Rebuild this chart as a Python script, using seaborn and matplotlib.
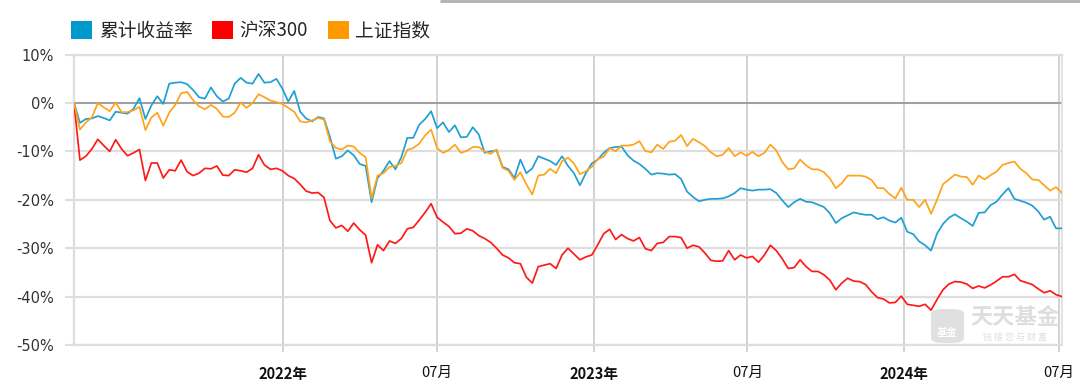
import numpy as np
import pandas as pd
import matplotlib
matplotlib.use("Agg")
import matplotlib.pyplot as plt
import seaborn as sns
from matplotlib.patches import Patch, FancyBboxPatch
from matplotlib.lines import Line2D

# ---------------- data (weekly) ----------------
start_date = "2021-04-30"
end_date = "2024-07-05"

fund = [0.0, -4.1, -3.3, -3.2, -2.7, -3.1, -3.6, -1.8, -2.0, -2.2, -1.2, 1.0, -3.3, -0.5, 1.4, -0.2,
        4.0, 4.2, 4.3, 3.9, 2.7, 1.2, 0.9, 3.2, 1.4, 0.3, 0.9, 4.0, 5.2, 4.2, 4.0, 6.0, 4.2, 4.3, 5.0,
        3.0, 0.3, 2.5, -1.8, -3.2, -3.8, -2.9, -3.2, -7.0, -11.5, -11.0, -9.8, -10.8, -12.6, -13.0, -20.5,
        -15.5, -14.0, -12.0, -13.7, -11.2, -7.2, -7.2, -4.5, -3.3, -1.7, -5.2, -4.0, -6.0, -4.6, -7.1, -7.0,
        -5.0, -6.5, -10.3, -10.0, -9.8, -13.2, -13.7, -15.5, -11.7, -14.5, -13.5, -11.0, -11.5, -12.0, -12.8,
        -11.0, -13.0, -14.5, -17.0, -14.5, -12.5, -11.7, -10.3, -9.3, -9.1, -9.0, -10.8, -11.9, -12.6, -13.6,
        -14.8, -14.5, -14.6,
        -14.8, -14.7, -15.7, -18.3, -19.4, -20.3, -20.0, -19.8, -19.8, -19.7, -19.3, -18.6, -17.6, -17.9,
        -18.1, -17.9, -17.9, -17.8, -18.6, -20.1, -21.5, -20.5, -19.8, -20.4, -20.5, -21.0, -21.5, -22.8,
        -24.8, -23.8, -23.2, -22.6,
        -22.9, -23.1, -23.1, -24.0, -23.6, -24.3, -24.7, -23.7, -26.6, -27.1, -28.6, -29.4, -30.5, -27.0,
        -25.0, -23.7, -23.0, -23.8, -24.5, -25.4, -22.7, -22.6, -21.1, -20.4, -18.9, -17.6, -19.8, -20.2,
        -20.6, -21.2, -22.4, -24.1, -23.5, -25.9, -25.9]

hs300 = [0.0, -11.8, -11.0, -9.5, -7.5, -8.8, -10.0, -7.6, -9.5, -10.9, -10.3, -9.6, -16.0, -12.4, -12.4,
         -15.5, -13.8, -14.0, -11.8, -14.2, -15.0, -14.5, -13.5, -13.6, -13.0, -14.9, -15.0, -13.8, -14.0,
         -14.3, -13.5, -10.7, -12.8, -13.7, -13.5,
         -14.0, -15.0, -15.6, -16.8, -18.2, -18.6, -18.5, -19.5, -24.3, -25.8, -25.3, -26.5, -24.8, -26.2,
         -27.3, -33.0, -29.3, -30.5, -28.5, -29.0, -28.0, -26.0, -25.7, -24.2, -22.6, -20.8, -23.6, -24.6,
         -25.5, -27.0, -26.9, -26.0,
         -26.4, -27.4, -28.0, -28.8, -30.0, -31.4, -32.0, -33.0, -33.2, -36.0, -37.2, -33.8, -33.5, -33.2,
         -34.2, -31.4, -30.0, -31.2, -32.4, -31.8, -31.4, -29.3, -27.0, -26.1, -28.2, -27.2, -28.0, -28.5,
         -27.8, -30.1, -30.5, -29.0, -28.8,
         -27.6, -27.6, -27.8, -30.0, -29.4, -29.7, -31.0, -32.5, -32.7, -32.6, -30.5, -32.4, -31.4, -32.0,
         -31.7, -32.9, -31.4, -29.4, -30.5, -32.2, -34.2, -34.0, -32.4, -33.8, -34.8, -34.8, -35.5, -36.6,
         -38.6, -37.2, -36.2, -36.8,
         -36.9, -37.5, -39.0, -40.2, -40.5, -41.3, -41.2, -39.9, -41.6, -41.8, -42.0, -41.6, -42.8, -40.6,
         -38.6, -37.4, -36.9, -37.0, -37.4, -38.3, -37.8, -38.2, -37.6, -36.8, -35.9, -35.9, -35.4, -36.7,
         -37.1, -37.5, -38.4, -39.2, -38.8, -39.6, -40.0]

shindex = [0.0, -5.5, -4.0, -3.0, 0.0, -0.9, -1.7, 0.1, -1.9, -1.9, -1.5, -0.8, -5.6, -3.0, -2.0, -4.7,
           -2.0, -0.4, 2.0, 2.3, 0.6, -0.7, -1.3, -0.4, -1.2, -2.8, -2.9, -2.0, 0.1, -1.0, 0.0, 1.8, 1.2,
           0.5, 0.2,
           -0.2, -1.0, -1.8, -3.8, -4.0, -3.6, -3.1, -3.4, -7.9, -9.3, -9.6, -8.8, -9.0, -10.3, -11.2, -19.7,
           -15.0, -14.5, -13.2, -13.0, -12.4, -9.7, -9.3, -8.4, -6.7, -5.5, -9.3, -10.3, -9.7, -8.6, -10.3,
           -9.9,
           -9.1, -9.1, -10.0, -10.5, -9.6, -13.4, -14.0, -15.9, -14.3, -16.8, -18.9, -15.0, -14.8, -13.6,
           -14.5, -12.0, -11.3, -12.5, -14.7, -14.1, -13.2, -11.6, -11.1, -9.3, -10.0, -8.8, -8.8, -8.6,
           -7.9, -9.9, -10.2, -8.6, -9.5,
           -8.0, -7.8, -6.6, -8.9, -7.4, -8.1, -8.9, -10.2, -11.0, -10.7, -9.3, -11.0, -10.2, -10.9, -10.1,
           -11.0, -10.3, -8.6, -9.8, -12.2, -13.7, -13.5, -11.7, -12.9, -13.7, -13.7, -14.3, -15.6, -17.6,
           -16.6, -15.0, -15.0,
           -15.0, -15.2, -15.9, -17.6, -17.6, -18.8, -19.7, -17.5, -20.0, -20.0, -21.5, -20.0, -22.9, -20.0,
           -16.8, -15.8, -14.8, -15.2, -15.3, -16.9, -15.0, -15.8, -14.9, -14.2, -12.8, -12.4, -12.1, -13.6,
           -14.5, -15.8, -15.9, -17.0, -18.1, -17.4, -18.6]

series_names = ["累计收益率", "沪深300", "上证指数"]
line_colors = ["#1f9fd4", "#ff1a1a", "#ffa31a"]
legend_colors = ["#0099cc", "#ff0000", "#ff9900"]

yticks = [10, 0, -10, -20, -30, -40, -50]
ytick_labels = ["10%", "0%", "-10%", "-20%", "-30%", "-40%", "-50%"]
xtick_dates = ["2022-01-01", "2022-07-01", "2023-01-01", "2023-07-01", "2024-01-01", "2024-07-01"]
xtick_labels = ["2022年", "07月", "2023年", "07月", "2024年", "07月"]

# ---------------- build long table ----------------
dates = pd.date_range(start_date, periods=len(fund), freq="7D")
df = pd.concat([
    pd.DataFrame({"date": dates, "value": vals, "series": name})
    for name, vals in zip(series_names, [fund, hs300, shindex])
], ignore_index=True)

# ---------------- style ----------------
sns.set_theme(style="white")
plt.rcParams["font.family"] = ["DejaVu Sans", "Noto Sans CJK SC"]
plt.rcParams["axes.unicode_minus"] = False

W, H = 1080, 387
fig = plt.figure(figsize=(W / 100, H / 100), dpi=100)
left_px, right_px, top_px, bot_px = 74, 1062, 54.6, 345
ax = fig.add_axes([left_px / W, 1 - bot_px / H, (right_px - left_px) / W, (bot_px - top_px) / H])

sns.lineplot(data=df, x="date", y="value", hue="series", hue_order=series_names,
             palette=dict(zip(series_names, line_colors)), estimator=None, sort=False,
             linewidth=1.25, legend=False, ax=ax, zorder=3)

ax.set_xlim(pd.Timestamp(start_date), pd.Timestamp(end_date))
ax.set_ylim(-50, 10)
ax.set_xlabel("")
ax.set_ylabel("")

ax.set_yticks(yticks)
ax.set_yticklabels(ytick_labels)
ax.set_xticks(pd.to_datetime(xtick_dates))
ax.set_xticklabels(xtick_labels)

ax.set_axisbelow(True)
ax.yaxis.grid(True, color="#dedede", linewidth=1.6)
ax.xaxis.grid(True, color="#cfcfcf", linewidth=1.3)
ax.axhline(0, color="#9a9a9a", linewidth=1.3, zorder=2)

for side in ["left", "bottom", "top", "right"]:
    ax.spines[side].set_visible(True)
    ax.spines[side].set_color("#dedede")
    ax.spines[side].set_linewidth(1.6)
ax.spines["right"].set_linewidth(1.2)

ax.tick_params(axis="y", length=6.5, width=1.5, color="#dedede", pad=8,
               labelsize=10.5, labelcolor="#333333", left=True)
ax.tick_params(axis="x", length=5, width=1.3, color="#cfcfcf", pad=10,
               labelsize=10.5, labelcolor="#111111", bottom=True)
for lab in ax.get_xticklabels():
    lab.set_family(["Noto Sans CJK SC", "DejaVu Sans"])
    if lab.get_text().endswith("年"):
        lab.set_fontweight("bold")

# ---------------- legend ----------------
handles = [Patch(facecolor=c, edgecolor="none") for c in legend_colors]
fig.legend(handles, series_names, loc="center left",
           bbox_to_anchor=(71 / W, 1 - 31 / H), ncol=3, frameon=False,
           handlelength=1.12, handleheight=1.12, handletextpad=0.35,
           columnspacing=1.05, borderpad=0, borderaxespad=0,
           prop={"family": ["Noto Sans CJK SC", "DejaVu Sans"], "size": 13.5})

# ---------------- watermark ----------------
wm = "#d9d9d9"
icon = FancyBboxPatch((931 / W, 1 - 343 / H), 33 / W, 34 / H,
                      boxstyle="round,pad=0,rounding_size=0.012",
                      transform=fig.transFigure, facecolor=wm, edgecolor="none",
                      alpha=0.8, zorder=1)
fig.add_artist(icon)
fig.text(947.5 / W, 1 - 333 / H, "基金", color="white", fontsize=7.5, ha="center", va="center",
         family=["Noto Sans CJK SC"], fontweight="bold", zorder=2)
fig.text(1015 / W, 1 - 318 / H, "天天基金", color=wm, fontsize=16, ha="center", va="center",
         family=["Noto Sans CJK SC"], fontweight="bold", alpha=0.85)
fig.text(1015 / W, 1 - 337 / H, "链 接 您 与 财 富", color=wm, fontsize=6.5, ha="center", va="center",
         family=["Noto Sans CJK SC"], alpha=0.85)

# top-right border fragment
fig.add_artist(Line2D([441 / W, 1.0], [1 - 1 / H, 1 - 1 / H], transform=fig.transFigure,
                      color="#b0b0b0", linewidth=2))

fig.savefig("out.png", dpi=100)
